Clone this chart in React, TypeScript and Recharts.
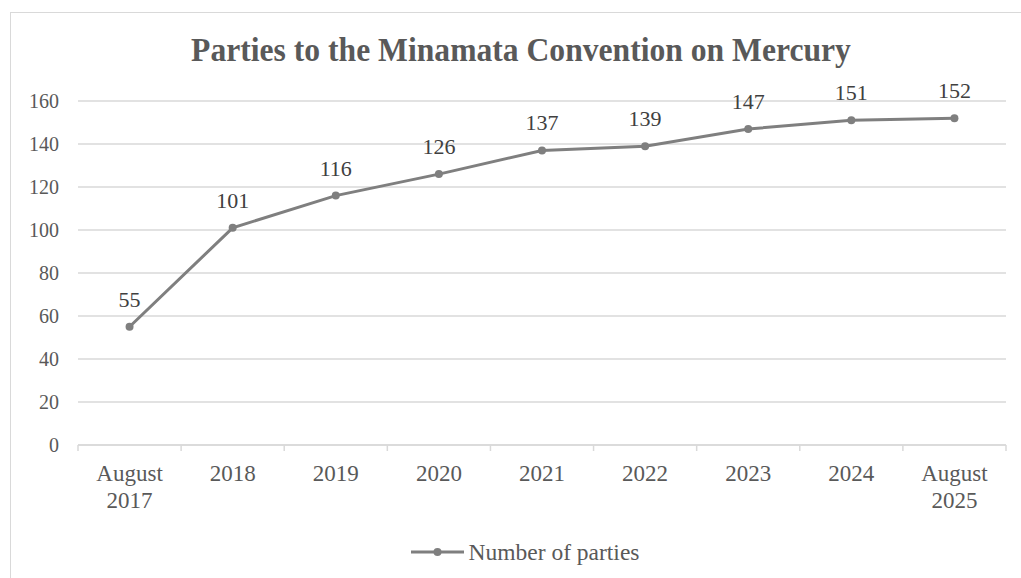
import { LineChart, Line, XAxis, YAxis, CartesianGrid, Legend, LabelList } from 'recharts';

const categories = ['August 2017', '2018', '2019', '2020', '2021', '2022', '2023', '2024', 'August 2025'];
const parties = [55, 101, 116, 126, 137, 139, 147, 151, 152];
const yTicks = [0, 20, 40, 60, 80, 100, 120, 140, 160];

const data = categories.map((label, i) => ({ label, parties: parties[i] }));

const W = 1021;
const H = 578;
const MARGIN = { top: 101, right: 15, bottom: 8, left: 0 };
const Y_AXIS_W = 78;
const BAND = (W - MARGIN.left - MARGIN.right - Y_AXIS_W) / categories.length;

const FONT = '"Liberation Serif", "Times New Roman", serif';
const TEXT = '#595959';
const GRID = '#d9d9d9';
const LINE = '#7f7f7f';

function CategoryTick(props: any) {
  const { x, y, payload, index } = props;
  const half = BAND / 2;
  const lines = String(payload.value).split(' ');
  return (
    <g>
      <line x1={x - half} x2={x - half} y1={y - 6} y2={y} stroke={GRID} strokeWidth={1.5} />
      {index === categories.length - 1 && (
        <line x1={x + half} x2={x + half} y1={y - 6} y2={y} stroke={GRID} strokeWidth={1.5} />
      )}
      <text x={x} y={y + 30} textAnchor="middle" fill={TEXT} fontSize={23} fontFamily={FONT}>
        {lines.map((l, i) => (
          <tspan key={i} x={x} dy={i === 0 ? 0 : 27}>{l}</tspan>
        ))}
      </text>
    </g>
  );
}

function LegendContent() {
  return (
    <div style={{ height: 36, display: 'flex', alignItems: 'center', justifyContent: 'center', paddingLeft: 44 }}>
      <svg width={53} height={12} style={{ marginRight: 5 }}>
        <line x1={0} x2={53} y1={6} y2={6} stroke={LINE} strokeWidth={3} />
        <circle cx={26.5} cy={6} r={4} fill={LINE} />
      </svg>
      <span style={{ fontFamily: FONT, fontSize: 23.5, color: TEXT }}>Number of parties</span>
    </div>
  );
}

export default function App() {
  return (
    <div style={{ position: 'absolute', left: 0, top: 0, width: W, height: H, overflow: 'hidden', background: '#fff' }}>
      {/* chart frame, runs off the right and bottom edges */}
      <div style={{ position: 'absolute', left: 10, top: 12, width: W + 40, height: H + 40, border: `1.5px solid ${GRID}` }} />
      <div
        style={{
          position: 'absolute', left: 0, top: 33, width: 1042, textAlign: 'center',
          fontFamily: FONT, fontWeight: 700, fontSize: 34, lineHeight: '34px', color: TEXT,
          transform: 'scaleX(0.93)', transformOrigin: '521px 0',
        }}
      >
        Parties to the Minamata Convention on Mercury
      </div>
      <div style={{ position: 'absolute', left: 0, top: 0 }}>
        <LineChart width={W} height={H} data={data} margin={MARGIN}>
          <CartesianGrid vertical={false} stroke={GRID} strokeWidth={1.5} />
          <XAxis
            dataKey="label"
            height={89}
            padding={{ left: BAND / 2, right: BAND / 2 }}
            axisLine={{ stroke: GRID, strokeWidth: 1.5 }}
            tickLine={false}
            tickSize={6}
            tickMargin={0}
            interval={0}
            tick={<CategoryTick />}
          />
          <YAxis
            width={Y_AXIS_W}
            domain={[0, 160]}
            ticks={yTicks}
            axisLine={false}
            tickLine={false}
            tickMargin={13}
            tick={{ fill: TEXT, fontSize: 20, fontFamily: FONT }}
          />
          <Legend verticalAlign="bottom" content={<LegendContent />} />
          <Line
            type="linear"
            dataKey="parties"
            name="Number of parties"
            stroke={LINE}
            strokeWidth={3}
            dot={{ r: 4, fill: LINE, stroke: LINE, strokeWidth: 0 }}
            activeDot={false}
            isAnimationActive={false}
          >
            <LabelList dataKey="parties" position="top" offset={20} fill="#404040" fontSize={22} fontFamily={FONT} />
          </Line>
        </LineChart>
      </div>
    </div>
  );
}
